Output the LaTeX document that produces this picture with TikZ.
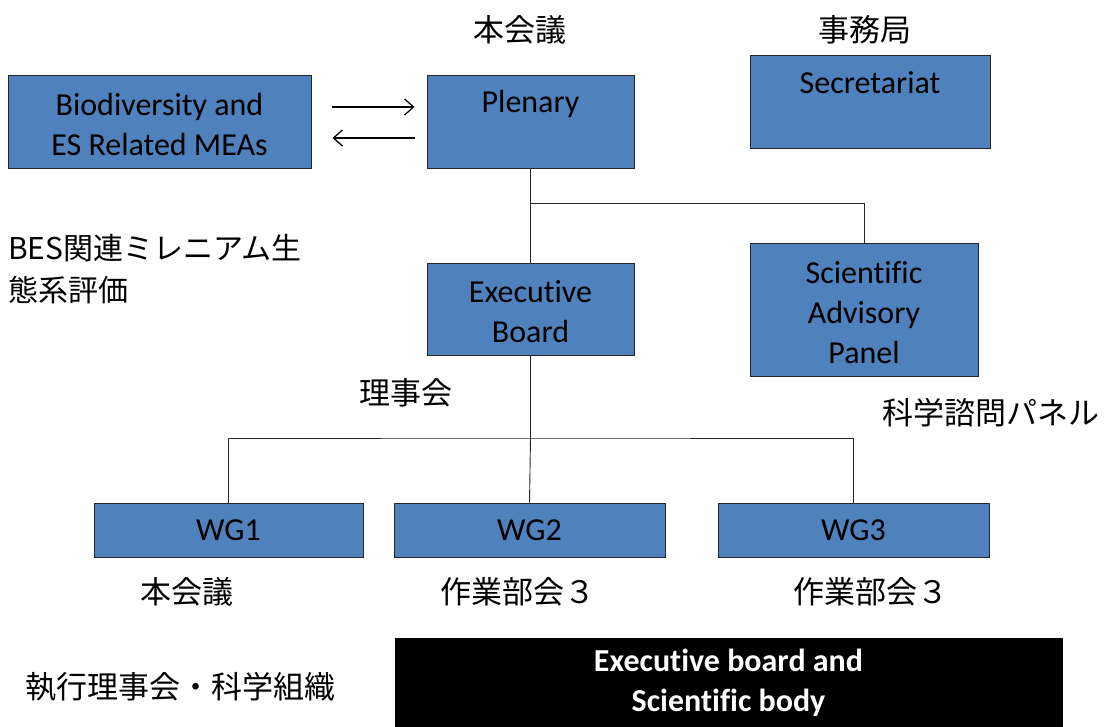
\documentclass[tikz,border=0pt]{standalone}
\usepackage{fontspec}
\setmainfont{Carlito}[Ligatures={NoCommon}]
\newfontfamily\jp{Noto Sans CJK JP}
\usetikzlibrary{arrows.meta}
\definecolor{boxblue}{HTML}{4F81BD}
\tikzset{
  box/.style={draw=black!85, line width=0.9pt, fill=boxblue, rectangle, inner sep=0pt, align=center,
    font=\fontsize{32}{40}\selectfont},
  jlabel/.style={font=\jp\fontsize{31}{42}\selectfont, inner sep=0pt},
  conn/.style={line width=0.9pt, draw=black!85},
  arr/.style={line width=1.3pt, -{Straight Barb[length=9pt,width=16pt,line width=1.3pt]}},
}
\begin{document}
\begin{tikzpicture}[x=1pt,y=-1pt]
\useasboundingbox (0,0) rectangle (1110,727);
% boxes
\node[box, minimum width=303pt, minimum height=93pt] (bio) at (159.5,121.5) {\rule{0pt}{28pt}Biodiversity and\\ES Related MEAs};
\node[box, minimum width=207pt, minimum height=93pt] (plen) at (530.5,121.5) {};
\node[font=\fontsize{32}{40}\selectfont, inner sep=0pt] (plent) at (530.5,104) {Plenary};
\node[box, minimum width=240pt, minimum height=93pt] (sec) at (870,101.5) {};
\node[font=\fontsize{32}{40}\selectfont, inner sep=0pt] (sect) at (870,83) {Secretariat};
\node[box, minimum width=207pt, minimum height=92pt] (eb) at (530.5,309) {\rule{0pt}{28pt}Executive\\Board};
\node[box, minimum width=228pt, minimum height=133pt] (sap) at (864,309.5) {\rule{0pt}{28pt}Scientific\\Advisory\\Panel};
\node[box, minimum width=269pt, minimum height=54pt] (wg1) at (228.5,530) {WG1};
\node[box, minimum width=271pt, minimum height=54pt] (wg2) at (529.5,530) {WG2};
\node[box, minimum width=271pt, minimum height=54pt] (wg3) at (853.5,530) {WG3};
\node[draw=black, fill=black, text=white, minimum width=667pt, minimum height=89pt, inner sep=0pt, align=center,
  font=\bfseries\fontsize{32}{40}\selectfont] (esb) at (728.5,682.5) {Executive board and\\Scientific body};
% arrows
\draw[arr, shorten <=21pt, shorten >=12pt] ([yshift=14.5pt]bio.east) -- ([yshift=14.5pt]plen.west);
\draw[arr, shorten <=12pt, shorten >=21pt] ([yshift=-16.5pt]plen.west) -- ([yshift=-16.5pt]bio.east);
% connectors
\coordinate (j1) at (530.5,203);
\coordinate (j2) at (530.5,438);
\draw[conn, line width=1.6pt] (plen.south) -- (eb.north);
\draw[conn] (j1) -| (sap.north);
\draw[conn] (eb.south) -- (j2) -- (wg2.north);
\draw[conn] (wg1.north) |- (j2) -| (wg3.north);
% japanese labels
\node[jlabel] (l1) at (520,30) {本会議};
\node[jlabel] (l2) at (865,30) {事務局};
\node[jlabel, anchor=west, font=\jp\fontsize{30}{42}\selectfont] (l3) at (8,248) {BES関連ミレニアム生};
\node[jlabel, anchor=west, font=\jp\fontsize{30}{42}\selectfont] (l4) at (8,290) {態系評価};
\node[jlabel] (l5) at (406,393) {理事会};
\node[jlabel] (l6) at (991,413) {科学諮問パネル};
\node[jlabel] (l7) at (187,592) {本会議};
\node[jlabel] (l8) at (518,592) {作業部会３};
\node[jlabel] (l9) at (871,592) {作業部会３};
\node[jlabel] (l10) at (180,687) {執行理事会・科学組織};
\end{tikzpicture}
\end{document}
